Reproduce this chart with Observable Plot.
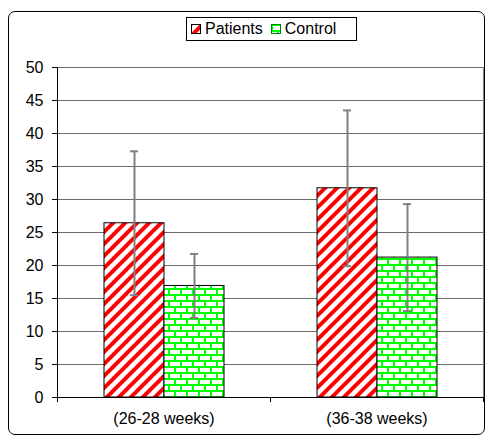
<!DOCTYPE html>
<html>
<head>
<meta charset="utf-8">
<script src="https://cdn.jsdelivr.net/npm/d3@7"></script>
<script src="https://cdn.jsdelivr.net/npm/@observablehq/plot@0.6"></script>
<style>
  html, body { margin: 0; padding: 0; background: white; }
  #wrap { position: relative; width: 490px; height: 438px; overflow: hidden; font-family: "Liberation Sans", Arial, sans-serif; }
  #border { position: absolute; left: 8px; top: 11px; width: 477px; height: 424px; border: 1px solid #000; border-radius: 7px; box-sizing: border-box; pointer-events: none; }
  #legend { position: absolute; left: 186px; top: 17px; width: 171px; height: 24px; border: 1px solid #000; box-sizing: border-box; background: white; display: flex; align-items: center; font-size: 16px; color: #000; padding-left: 4px; }
  #legend .item { display: flex; align-items: center; margin-right: 8px; }
  #legend svg { margin-right: 4px; }
</style>
</head>
<body>
<div id="wrap">
  <div id="border"></div>
  <div id="legend"></div>
</div>
<script>
const periods = ["(26-28 weeks)", "(36-38 weeks)"];
const groups = ["Patients", "Control"];
const patientsMean = [26.4, 31.7];
const patientsSD = [10.9, 11.8];
const controlMean = [16.9, 21.2];
const controlSD = [4.85, 8.1];
const yTicks = [0, 5, 10, 15, 20, 25, 30, 35, 40, 45, 50];

const rows = periods.flatMap((p, i) => [
  {period: p, group: groups[0], mean: patientsMean[i], sd: patientsSD[i]},
  {period: p, group: groups[1], mean: controlMean[i], sd: controlSD[i]}
]);

const patternDefs = (pre) => `
  <pattern id="${pre}hatch" patternUnits="userSpaceOnUse" width="12" height="12">
    <rect width="12" height="12" fill="white"/>
    <path d="M-3,3 L3,-3 M0,12 L12,0 M9,15 L15,9" stroke="#ff0000" stroke-width="4"/>
  </pattern>
  <pattern id="${pre}bricks" patternUnits="userSpaceOnUse" width="12" height="12">
    <rect width="12" height="12" fill="white"/>
    <path d="M0,1 H12 M0,7 H12 M1,1 V7 M7,7 V13 M7,-1 V1" stroke="#00ff00" stroke-width="2"/>
  </pattern>`;

const capInset = 26;

const chart = Plot.plot({
  width: 490,
  height: 438,
  marginTop: 67,
  marginBottom: 41,
  marginLeft: 57,
  marginRight: 7,
  style: {fontFamily: "'Liberation Sans', Arial, sans-serif", fontSize: "16px", color: "#000", background: "transparent"},
  fx: {domain: periods, padding: 0, label: null},
  x: {domain: groups, paddingInner: 0, paddingOuter: 0.76, axis: null},
  y: {domain: [0, 50], label: null},
  marks: [
    Plot.gridY(yTicks, {stroke: "#6b6b6b", strokeOpacity: 1}),
    Plot.barY(rows.filter(d => d.group === groups[0]), {fx: "period", x: "group", y: "mean", fill: "url(#hatch)", stroke: "#000", strokeWidth: 1}),
    Plot.barY(rows.filter(d => d.group === groups[1]), {fx: "period", x: "group", y: "mean", fill: "url(#bricks)", stroke: "#000", strokeWidth: 1}),
    Plot.ruleX(rows, {fx: "period", x: "group", y1: d => d.mean - d.sd, y2: d => d.mean + d.sd, stroke: "#808080", strokeWidth: 2}),
    Plot.tickY(rows, {fx: "period", x: "group", y: d => d.mean - d.sd, stroke: "#808080", strokeWidth: 2, insetLeft: capInset, insetRight: capInset}),
    Plot.tickY(rows, {fx: "period", x: "group", y: d => d.mean + d.sd, stroke: "#808080", strokeWidth: 2, insetLeft: capInset, insetRight: capInset}),
    Plot.ruleY([0], {stroke: "#000", strokeWidth: 1}),
    Plot.axisY({ticks: yTicks, tickSize: 5, tickPadding: 9, tickFormat: d => String(d), label: null}),
    Plot.axisFx({anchor: "bottom", tickSize: 0, tickPadding: 15, label: null})
  ]
});

// pattern defs
const svg = d3.select(chart.tagName.toLowerCase() === "svg" ? chart : chart.querySelector("svg"));
svg.insert("defs", ":first-child").html(patternDefs(""));

// axis line, right border and boundary ticks from the library's scales
const fx = chart.scale("fx");
const y = chart.scale("y");
const x0 = fx.apply(periods[0]);
const x1 = fx.apply(periods[periods.length - 1]) + fx.bandwidth;
const y0 = y.apply(0), yTop = y.apply(50);
const g = svg.append("g");
g.append("line").attr("x1", x1 + 0.5).attr("x2", x1 + 0.5).attr("y1", yTop).attr("y2", y0).attr("stroke", "#808080");
g.append("line").attr("x1", x0 + 0.5).attr("x2", x0 + 0.5).attr("y1", yTop).attr("y2", y0 + 5).attr("stroke", "#000");
const bounds = periods.map(p => fx.apply(p)).concat([x1]);
bounds.forEach(b => {
  g.append("line").attr("x1", b + 0.5).attr("x2", b + 0.5).attr("y1", y0).attr("y2", y0 + 5).attr("stroke", "#000");
});

document.getElementById("wrap").appendChild(chart);
chart.style.position = "absolute";
chart.style.left = "0px";
chart.style.top = "0px";

// legend
const legend = document.getElementById("legend");
const fills = ["hatch", "bricks"];
const strokes = ["#000", "#008000"];
groups.forEach((name, i) => {
  const item = document.createElement("div");
  item.className = "item";
  item.innerHTML = `<svg width="10" height="10" viewBox="0 0 10 10"><defs>${patternDefs("lg" + i)}</defs><rect x="0.5" y="0.5" width="9" height="9" fill="url(#lg${i}${fills[i]})" stroke="${strokes[i]}"/></svg><span>${name}</span>`;
  legend.appendChild(item);
});
</script>
</body>
</html>
